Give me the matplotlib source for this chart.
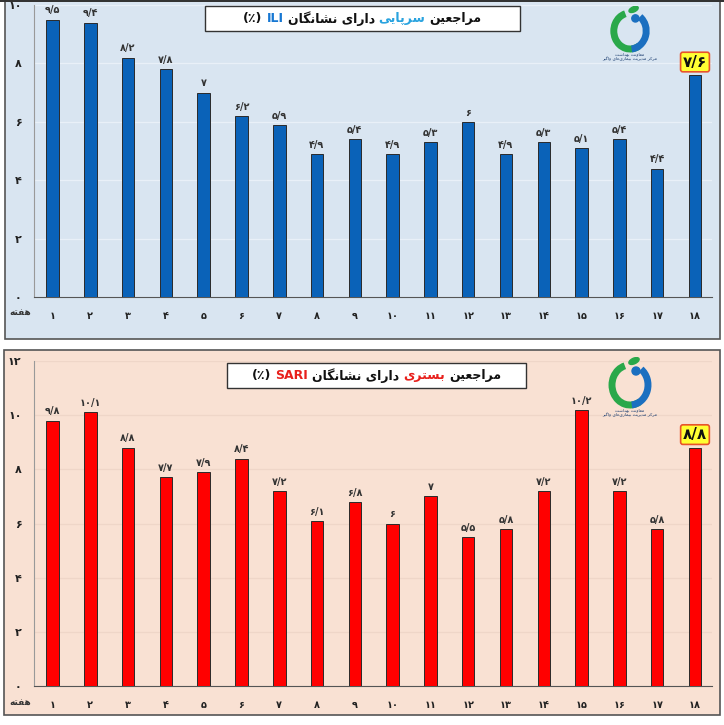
import matplotlib
matplotlib.use("Agg")
import matplotlib.pyplot as plt
from matplotlib.patches import Rectangle, Arc, Ellipse, Circle

# weekly data (weeks 1..18)
weeks = list(range(1, 19))
ili = [9.5, 9.4, 8.2, 7.8, 7.0, 6.2, 5.9, 4.9, 5.4, 4.9, 5.3, 6.0, 4.9, 5.3, 5.1, 5.4, 4.4, 7.6]
sari = [9.8, 10.1, 8.8, 7.7, 7.9, 8.4, 7.2, 6.1, 6.8, 6.0, 7.0, 5.5, 5.8, 7.2, 10.2, 7.2, 5.8, 8.8]
ili_ticks = [0, 2, 4, 6, 8, 10]
sari_ticks = [0, 2, 4, 6, 8, 10, 12]

week_word = "هفته"
ili_title = ["مراجعین", "سرپایی", "دارای نشانگان", "ILI", "(٪)"]
sari_title = ["مراجعین", "بستری", "دارای نشانگان", "SARI", "(٪)"]
logo_lines = ["معاونت بهداشت", "مرکز مدیریت بیماری‌های واگیر"]

# --- tiny persian shaper: (isolated, final, initial, medial)
FORMS = {
    'ا': ('\uFE8D', '\uFE8E', None, None),
    'ب': ('\uFE8F', '\uFE90', '\uFE91', '\uFE92'),
    'پ': ('\uFB56', '\uFB57', '\uFB58', '\uFB59'),
    'ت': ('\uFE95', '\uFE96', '\uFE97', '\uFE98'),
    'ج': ('\uFE9D', '\uFE9E', '\uFE9F', '\uFEA0'),
    'د': ('\uFEA9', '\uFEAA', None, None),
    'ر': ('\uFEAD', '\uFEAE', None, None),
    'ز': ('\uFEAF', '\uFEB0', None, None),
    'س': ('\uFEB1', '\uFEB2', '\uFEB3', '\uFEB4'),
    'ش': ('\uFEB5', '\uFEB6', '\uFEB7', '\uFEB8'),
    'ع': ('\uFEC9', '\uFECA', '\uFECB', '\uFECC'),
    'ف': ('\uFED1', '\uFED2', '\uFED3', '\uFED4'),
    'ک': ('\uFB8E', '\uFB8F', '\uFB90', '\uFB91'),
    'گ': ('\uFB92', '\uFB93', '\uFB94', '\uFB95'),
    'م': ('\uFEE1', '\uFEE2', '\uFEE3', '\uFEE4'),
    'ن': ('\uFEE5', '\uFEE6', '\uFEE7', '\uFEE8'),
    'ه': ('\uFEE9', '\uFEEA', '\uFEEB', '\uFEEC'),
    'و': ('\uFEED', '\uFEEE', None, None),
    'ی': ('\uFBFC', '\uFBFD', '\uFBFE', '\uFBFF'),
}


def shape(s):
    out = []
    for i, c in enumerate(s):
        if c not in FORMS:
            out.append(c)
            continue
        p = s[i - 1] if i > 0 else ''
        n = s[i + 1] if i + 1 < len(s) else ''
        jp = p in FORMS and FORMS[p][2] is not None
        jn = FORMS[c][2] is not None and n in FORMS
        f = FORMS[c]
        out.append(f[3] if jp and jn else f[1] if jp else f[2] if jn else f[0])
    return ''.join(out).replace('\u200c', '')[::-1]


FA = str.maketrans('0123456789', '۰۱۲۳۴۵۶۷۸۹')


def fa(v):
    if float(v).is_integer():
        return str(int(v)).translate(FA)
    return ('%.1f' % v).replace('.', '/').translate(FA)


plt.rcParams['font.family'] = ['DejaVu Sans']
W, H = 724, 725
fig = plt.figure(figsize=(7.24, 7.25), dpi=100)


def fx(px):
    return px / W


def fy(py):
    return 1 - py / H


panels = [
    dict(data=ili, ticks=ili_ticks, top=5, bottom=297, box=(5, 1, 720, 339),
         bg='#d9e5f1', grid='#e9f0f8', bar='#0a62b8', ymax=10, title=ili_title,
         tbox=(205, 6, 520, 31), colors=['#111111', '#29a3df', '#111111', '#1677d2', '#111111'],
         logo=(630, 31, 18), weeky=312),
    dict(data=sari, ticks=sari_ticks, top=361, bottom=686, box=(4, 350, 720, 715),
         bg='#f9e1d3', grid='#efd6c8', bar='#ff0000', ymax=12, title=sari_title,
         tbox=(227, 363, 526, 388), colors=['#111111', '#e8201c', '#111111', '#e8201c', '#111111'],
         logo=(630, 385, 20), weeky=702),
]

renderer = fig.canvas.get_renderer()

# dark strip along the very top edge
fig.patches.append(Rectangle((0, fy(2)), 1, 2 / H, transform=fig.transFigure,
                             facecolor='#333333', lw=0, zorder=-4))

for p in panels:
    x0, y0, x1, y1 = p['box']
    fig.patches.append(Rectangle((fx(x0), fy(y1)), fx(x1 - x0), (y1 - y0) / H,
                                 transform=fig.transFigure, facecolor=p['bg'],
                                 edgecolor='#555555', lw=1.2, zorder=-5))
    ax = fig.add_axes([fx(34), fy(p['bottom']), fx(712 - 34), (p['bottom'] - p['top']) / H])
    ax.patch.set_alpha(0)
    ax.bar(weeks, p['data'], width=0.33, color=p['bar'], edgecolor='#2a2a2a', lw=0.7, zorder=3)
    ax.set_xlim(0.51, 18.45)
    ax.set_ylim(0, p['ymax'])
    ax.set_yticks(p['ticks'])
    ax.set_yticklabels([fa(t) for t in p['ticks']], fontsize=8, fontweight='bold', color='#222222')
    ax.set_xticks(weeks)
    ax.set_xticklabels([fa(w) for w in weeks], fontsize=7, fontweight='bold', color='#222222')
    ax.tick_params(axis='x', length=0, pad=10)
    ax.tick_params(axis='y', length=0, pad=9)
    ax.yaxis.grid(True, color=p['grid'], lw=0.9, zorder=0)
    ax.set_axisbelow(True)
    for s in ['top', 'right']:
        ax.spines[s].set_visible(False)
    ax.spines['left'].set_color('#999999')
    ax.spines['bottom'].set_color('#555555')
    for w, v in zip(weeks[:-1], p['data'][:-1]):
        ax.annotate(fa(v), (w, v), xytext=(0, 3), textcoords='offset points',
                    ha='center', va='bottom', fontsize=7, fontweight='bold', color='#333333')
    ax.annotate(fa(p['data'][-1]), (weeks[-1], p['data'][-1]), xytext=(0, 4),
                textcoords='offset points', ha='center', va='bottom', fontsize=11,
                fontweight='bold', color='#111111',
                bbox=dict(boxstyle='round,pad=0.15', fc='#ffff33', ec='#e8542b', lw=1.2))
    fig.text(fx(20), fy(p['weeky']), shape(week_word), ha='center', va='center',
             fontsize=6.5, fontweight='bold', color='#333333')

    # title box
    bx0, by0, bx1, by1 = p['tbox']
    fig.patches.append(Rectangle((fx(bx0), fy(by1)), fx(bx1 - bx0), (by1 - by0) / H,
                                 transform=fig.transFigure, facecolor='white',
                                 edgecolor='#333333', lw=1.0, zorder=2))
    pieces = [shape(t) if any(c in FORMS for c in t) else t for t in p['title']]
    pieces = pieces[::-1]
    cols = p['colors'][::-1]
    texts = []
    for t, c in zip(pieces, cols):
        texts.append(fig.text(0, fy((by0 + by1) / 2), t, ha='left', va='center',
                              fontsize=9, fontweight='bold', color=c, zorder=3))
    widths = [tx.get_window_extent(renderer).width for tx in texts]
    gap = 4
    cx = (bx0 + bx1) / 2
    x = cx - (sum(widths) + gap * (len(widths) - 1)) / 2
    for tx, wd in zip(texts, widths):
        tx.set_x(fx(x))
        x += wd + gap

    # logo
    lx, ly, r = p['logo']
    la = fig.add_axes([fx(lx - r * 1.4), fy(ly + r * 1.4), fx(r * 2.8), r * 2.8 / H])
    la.set_xlim(-1.4, 1.4)
    la.set_ylim(-1.4, 1.4)
    la.axis('off')
    la.add_patch(Arc((0, 0), 1.8, 2.0, theta1=105, theta2=300, color='#2aa84a', lw=5))
    la.add_patch(Arc((0, 0), 1.8, 2.0, theta1=-85, theta2=55, color='#1b6fc0', lw=5))
    la.add_patch(Circle((0.3, 0.7), 0.2, color='#1b6fc0'))
    la.add_patch(Ellipse((0.2, 1.2), 0.55, 0.28, angle=25, color='#2aa84a'))
    for k, line in enumerate(logo_lines):
        fig.text(fx(lx), fy(ly + r + 5 + k * 5), shape(line), ha='center', va='center',
                 fontsize=3.2, color='#1b3d70')

fig.savefig('out.png', dpi=100)
